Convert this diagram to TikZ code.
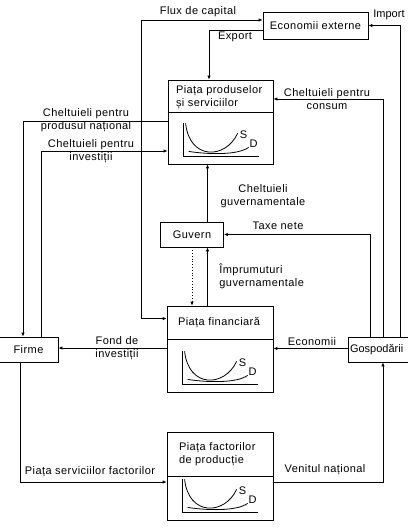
\documentclass[tikz,border=0pt]{standalone}
\usepackage{fontspec}
\setmainfont{Liberation Sans}[LetterSpace=4]
\usetikzlibrary{arrows.meta}
\tikzset{
  >={Latex[length=4pt,width=3.5pt]},
  every node/.style={font=\fontsize{11}{13}\selectfont},
  box/.style={draw, rectangle, minimum height=25pt, inner sep=2pt},
  market/.style={draw, rectangle, minimum width=106pt, minimum height=86pt},
  titlu/.style={anchor=west, align=left, inner sep=0pt},
  eticheta/.style={align=center, inner sep=0pt},
  flux/.style={draw},
}
% linia de separare si curbele S si D dintr-o piata
\newcommand{\curbe}[2]{%
  \draw ([yshift=-#2pt]#1.north west) -- ([yshift=-#2pt]#1.north east);
  \begin{scope}[shift={(#1.south west)}]
    \draw (16,-41) -- (16,-8) -- (91,-8);
    \draw (18,-41) .. controls (22,-4) and (58,-5) .. (70,-31);
    \draw (21,-13) .. controls (40,-10) and (70,-9) .. (81,-17);
    \node[inner sep=0pt] (#1-s) at (76,-30) {S};
    \node[inner sep=0pt] (#1-d) at (86,-21) {D};
  \end{scope}}

\begin{document}
\begin{tikzpicture}[x=1pt,y=-1pt,line width=0.8pt]
    \useasboundingbox (0,0) rectangle (407,529);
    % pietele
    \node[market,minimum width=105pt,minimum height=84pt] (produse) at (220.5,122) {};
    \node[titlu] (produse-titlu) at ([xshift=8pt,yshift=-18pt]produse.north west)
      {Piața produselor\\ și serviciilor};
    \curbe{produse}{33}
    \node[market] (financiara) at (220,349) {};
    \node[titlu] (financiara-titlu) at ([xshift=11pt,yshift=-17pt]financiara.north west)
      {Piața financiară};
    \curbe{financiara}{34}
    \node[market,minimum height=88pt] (factori) at (220,476) {};
    \node[titlu] (factori-titlu) at ([xshift=12pt,yshift=-22.5pt]factori.north west)
      {Piața factorilor\\ de producție};
    \curbe{factori}{45}
    % agentii
    \node[box,minimum width=105pt,minimum height=27pt] (externe) at (315.5,25.5) {Economii externe};
    \node[box,minimum width=63pt] (guvern) at (192,234.5) {Guvern};
    \node[box,minimum width=59pt] (firme) at (28.5,349.5) {Firme};
    \node[box,minimum width=64pt] (gospodarii) at (380,349.5) {};
    \node[anchor=west,inner sep=0pt] (gospodarii-text) at ([xshift=2pt]gospodarii.west)
      {\addfontfeatures{LetterSpace=0}Gospodării};
    % fluxurile
    \draw[flux,<->] ([yshift=-13pt]financiara.north west) -- ++(-25,0)
      |- ([yshift=5.5pt]externe.west);
    \node[eticheta] (flux-capital) at (198,12) {Flux de capital};
    \draw[flux,->] ([yshift=-4.5pt]externe.west) -| ([xshift=-11.5pt]produse.north);
    \node[eticheta] (export) at (235,37) {Export};
    \draw[flux,->] ([xshift=20pt]gospodarii.north) |- (externe.east);
    \node[anchor=west,inner sep=0pt] (import) at (373,15) {\addfontfeatures{LetterSpace=0}Import};
    \draw[flux,->] ([xshift=3pt]gospodarii.north) |- ([yshift=23pt]produse.east);
    \node[eticheta] (consum) at (327,99) {Cheltuieli pentru\\ consum};
    \draw[flux,->] ([yshift=1pt]produse.west) -| ([xshift=-5.5pt]firme.north);
    \node[eticheta] (national) at (86,120) {Cheltuieli pentru\\ produsul național};
    \draw[flux,->] ([xshift=12.5pt]firme.north) |- ([yshift=-29pt]produse.west);
    \node[eticheta] (investitii) at (91,151) {Cheltuieli pentru\\ investiții};
    \draw[flux,->] ([xshift=15.5pt]guvern.north) -- ([xshift=15.5pt]guvern.north |- produse.south);
    \node[eticheta] (chelt-guv) at (263,196) {Cheltuieli\\ guvernamentale};
    \draw[flux,->] ([xshift=-10pt]gospodarii.north) |- (guvern.east);
    \node[eticheta] (taxe) at (278,226) {Taxe nete};
    \draw[flux,->] ([xshift=15.5pt]guvern.south |- financiara.north) -- ([xshift=15.5pt]guvern.south);
    \node[titlu] (imprumuturi) at (219,276) {Împrumuturi\\ guvernamentale};
    \draw[flux,->,dotted] (guvern.south) -- (guvern.south |- financiara.north);
    \draw[flux,->] ([yshift=1pt]financiara.west) -- ([yshift=1pt]financiara.west -| firme.east);
    \node[eticheta] (fond) at (117,348) {Fond de\\ investiții};
    \draw[flux,->] ([yshift=1pt]gospodarii.west) -- ([yshift=1pt]gospodarii.west -| financiara.east);
    \node[eticheta] (economii) at (312,342) {Economii};
    \draw[flux,->] ([xshift=-8.5pt]firme.south) |- ([yshift=-6pt]factori.west);
    \node[eticheta] (servicii) at (90,472) {Piața serviciilor factorilor};
    \draw[flux,->] ([yshift=-6pt]factori.east) -| ([xshift=3pt]gospodarii.south);
    \node[eticheta] (venit) at (325,470) {Venitul național};
\end{tikzpicture}
\end{document}
